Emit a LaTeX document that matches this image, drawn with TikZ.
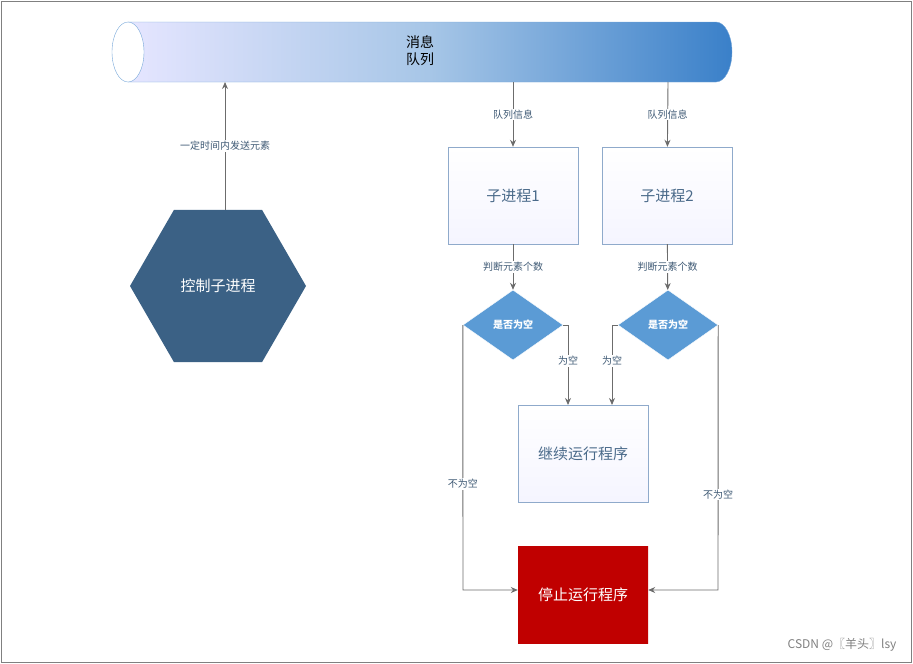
\documentclass[tikz,border=0pt]{standalone}
\usepackage{fontspec}
\setmainfont{Noto Sans CJK SC}
\usetikzlibrary{arrows.meta,shapes.geometric}
\definecolor{hexblue}{HTML}{3B6185}
\definecolor{diablue}{HTML}{5B9BD5}
\definecolor{pipeblue}{HTML}{3A80C9}
\definecolor{boxline}{HTML}{8FAACB}
\definecolor{boxtext}{HTML}{4A6A8A}
\definecolor{stopred}{HTML}{C00000}
\begin{document}
\begin{tikzpicture}[x=1pt,y=-1pt,
  conn/.style={draw=gray!85!black, line width=0.9pt, -{Stealth[length=7pt,width=6pt]}},
  lbl/.style={fill=white, inner sep=1pt, font=\fontsize{10}{10}\selectfont, text=boxtext!85!black},
  proc/.style={draw=boxline, top color=white, bottom color=blue!4, minimum width=130pt, minimum height=97pt, text=boxtext, font=\fontsize{15}{15}\selectfont},
  check/.style={diamond, aspect=1.43, fill=diablue, draw=white, minimum width=100pt, minimum height=70pt, inner sep=0pt, text=white, font=\fontsize{10}{10}\selectfont\bfseries}]
\useasboundingbox (0,0) rectangle (913,664);
\draw[gray, line width=1pt] (1,1) rectangle (911,662);
% message queue
\shade[left color=blue!10, right color=pipeblue, middle color=pipeblue!45]
  (128,22) -- (716,22) arc[start angle=-90, end angle=90, x radius=16, y radius=30] -- (128,82) -- cycle;
\draw[pipeblue!70] (128,22) -- (716,22) arc[start angle=-90, end angle=90, x radius=16, y radius=30] -- (128,82);
\draw[pipeblue!70, fill=white] (128,52) ellipse[x radius=16, y radius=30];
\node[align=center, font=\fontsize{14}{17}\selectfont] (queue) at (420,51) {消息\\队列};
\coordinate (q0) at (225,82);
\coordinate (q1) at (513,82);
\coordinate (q2) at (668,82);
% control process
\node[regular polygon, regular polygon sides=6, fill=hexblue, minimum size=176pt, inner sep=0pt,
  text=white, font=\fontsize{15}{15}\selectfont] (ctrl) at (218,286) {控制子进程};
\draw[conn] (225,210) -- node[lbl] {一定时间内发送元素} (q0);
% workers
\node[proc] (w1) at (513,195.5) {子进程1};
\node[proc] (w2) at (667,195.5) {子进程2};
\draw[conn] (q1) -- node[lbl] {队列信息} (w1);
\draw[conn] (q2) -- node[lbl] {队列信息} (w2);
\node[check] (c1) at (513,325) {是否为空};
\node[check] (c2) at (668,325) {是否为空};
\draw[conn] (w1) -- node[lbl] {判断元素个数} (c1);
\draw[conn] (w2) -- node[lbl] {判断元素个数} (c2);
\node[proc] (run) at (583,453.5) {继续运行程序};
\node[proc, draw=none, top color=stopred, bottom color=stopred, text=white] (stop) at (583,595) {停止运行程序};
\draw[conn] (c1.east) -- (568,325) -- node[lbl, pos=0.45] {为空} (568,405);
\draw[conn] (c2.west) -- (612,325) -- node[lbl, pos=0.45] {为空} (612,405);
\draw[conn] (c1.west) -- (463,590) node[lbl, pos=0.6] {不为空} -- (stop.west |- 0,590);
\draw[conn] (c2.east) -- (718,590) node[lbl, pos=0.64] {不为空} -- (stop.east |- 0,590);
\node[text=gray, font=\fontsize{12}{12}\selectfont, anchor=east] (mark) at (900,645) {CSDN @〖羊头〗lsy};
\end{tikzpicture}
\end{document}
